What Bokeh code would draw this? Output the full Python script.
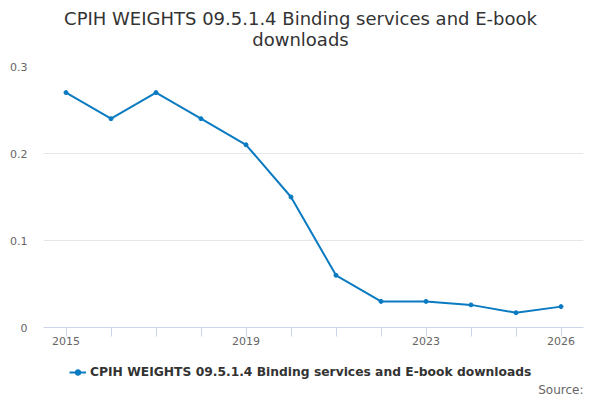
from bokeh.plotting import figure
from bokeh.models import FixedTicker, Legend, LegendItem, ColumnDataSource, Label, Range1d, Title
from bokeh.layouts import column
from bokeh.embed import file_html
from bokeh.resources import INLINE

years = [2015, 2016, 2017, 2018, 2019, 2020, 2021, 2022, 2023, 2024, 2025, 2026]
weights = [0.27, 0.24, 0.27, 0.24, 0.21, 0.15, 0.06, 0.03, 0.03, 0.026, 0.017, 0.024]
labelled_years = [2015, 2019, 2023, 2026]
y_ticks = [0, 0.1, 0.2, 0.3]
series_name = "CPIH WEIGHTS 09.5.1.4 Binding services and E-book downloads"
title_line1 = "CPIH WEIGHTS 09.5.1.4 Binding services and E-book"
title_line2 = "downloads"
source_text = "Source:"

FONT = "DejaVu Sans"
COLOR = "#0a7bc1"
W = 584
BL, BR = 43, 1  # shared left / right borders (frames are aligned in the column)

# ---- title strip ----
tf = figure(width=W, height=58, output_backend="svg", toolbar_location=None,
            x_range=Range1d(0, 1), y_range=Range1d(0, 1),
            x_axis_type=None, y_axis_type=None,
            min_border_left=BL, min_border_right=BR, min_border_top=0, min_border_bottom=0)
tf.outline_line_color = None
tf.grid.visible = False
for txt, yy in ((title_line1, 40), (title_line2, 19)):
    tf.add_layout(Label(x=300 - BL, y=yy, x_units="screen", y_units="screen", text=txt,
                        text_align="center", text_baseline="middle", text_font=FONT,
                        text_font_size="18px", text_color="#333333"))

# ---- main chart ----
src = ColumnDataSource(data=dict(x=years, y=weights))
p = figure(width=W, height=295, output_backend="svg", toolbar_location=None,
           x_range=(2014.5, 2026.5), y_range=(0, 0.3),
           min_border_left=BL, min_border_right=BR, min_border_top=8, min_border_bottom=26)
p.line("x", "y", source=src, line_color=COLOR, line_width=2)
p.scatter("x", "y", source=src, size=4, fill_color=COLOR, line_color=COLOR)

p.outline_line_color = None
p.xgrid.grid_line_color = None
p.ygrid.grid_line_color = "#e6e6e6"

xa = p.xaxis[0]
xa.ticker = FixedTicker(ticks=years)
xa.major_label_overrides = {y: (str(y) if y in labelled_years else "") for y in years}
xa.axis_line_color = "#ccd6eb"
xa.major_tick_line_color = "#ccd6eb"
xa.major_tick_in = 0
xa.major_tick_out = 9
xa.minor_tick_line_color = None
xa.major_label_text_font = FONT
xa.major_label_text_font_size = "11px"
xa.major_label_text_color = "#666666"
xa.major_label_standoff = 0

ya = p.yaxis[0]
ya.ticker = FixedTicker(ticks=y_ticks)
ya.major_label_overrides = {0: "0", 0.1: "0.1", 0.2: "0.2", 0.3: "0.3"}
ya.axis_line_color = None
ya.major_tick_line_color = None
ya.minor_tick_line_color = None
ya.major_label_text_font = FONT
ya.major_label_text_font_size = "11px"
ya.major_label_text_color = "#666666"
ya.major_label_standoff = 10

# ---- legend strip ----
lf = figure(width=W, height=45, output_backend="svg", toolbar_location=None,
            x_range=Range1d(0, 1), y_range=Range1d(0, 1),
            x_axis_type=None, y_axis_type=None,
            min_border_left=BL, min_border_right=BR, min_border_top=0, min_border_bottom=18)
lf.outline_line_color = None
lf.grid.visible = False
lsrc = ColumnDataSource(data=dict(x=[-10], y=[-10]))
lr1 = lf.line("x", "y", source=lsrc, line_color=COLOR, line_width=2)
lr2 = lf.scatter("x", "y", source=lsrc, size=4, fill_color=COLOR, line_color=COLOR)
legend = Legend(items=[LegendItem(label=series_name, renderers=[lr1, lr2])],
                location=(26, 0), orientation="horizontal",
                label_text_font=FONT, label_text_font_size="12.3px",
                label_text_font_style="bold", label_text_color="#333333",
                border_line_color=None, background_fill_alpha=0,
                glyph_width=17, glyph_height=14, label_standoff=4, margin=0, padding=0)
lf.add_layout(legend)
lf.add_layout(Title(text=source_text, align="right", text_font=FONT, text_font_size="12px",
                    text_font_style="normal", text_color="#666666", offset=0, standoff=3),
              "below")

layout = column(tf, p, lf, spacing=0)
open("out.html", "w").write(file_html(layout, INLINE))
